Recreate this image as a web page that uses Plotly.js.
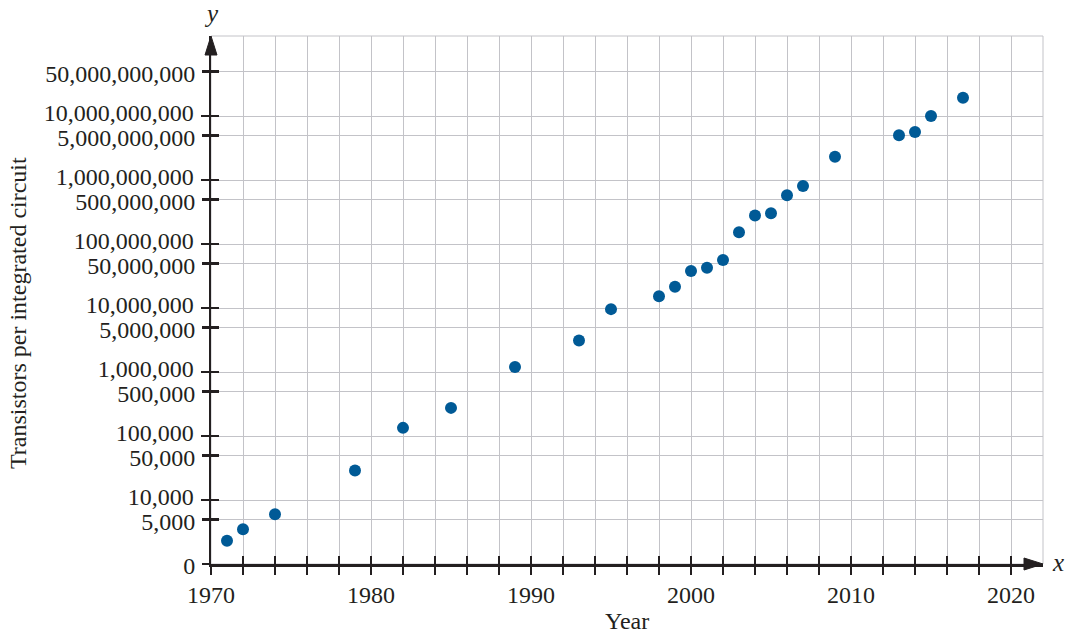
<!DOCTYPE html>
<html>
<head>
<meta charset="utf-8">
<script src="https://cdn.plot.ly/plotly-3.0.1.min.js"></script>
<style>html,body{margin:0;padding:0;background:#fff;}#chart{width:1068px;height:635px;}</style>
</head>
<body>
<div id="chart"></div>
<script>
// Data
const years = [1971, 1972, 1974, 1979, 1982, 1985, 1989, 1993, 1995, 1998, 1999, 2000, 2001, 2002, 2003, 2004, 2005, 2006, 2007, 2009, 2013, 2014, 2015, 2017];
const transistors = [2300, 3500, 6000, 29000, 134000, 275000, 1200000, 3100000, 9600000, 15200000, 21500000, 37800000, 42600000, 56200000, 152000000, 279000000, 302000000, 579000000, 805000000, 2310000000, 4990000000, 5620000000, 10000000000, 19300000000];

// y ticks: powers of ten, and the "5 x" values (plus the 0 at the origin)
const yDecadeVals = [10000, 100000, 1000000, 10000000, 100000000, 1000000000, 10000000000];
const yDecadeText = ['10,000', '100,000', '1,000,000', '10,000,000', '100,000,000', '1,000,000,000', '10,000,000,000'];
const yFiveVals = [1000, 5000, 50000, 500000, 5000000, 50000000, 500000000, 5000000000, 50000000000];
const yFiveText = ['0', '5,000', '50,000', '500,000', '5,000,000', '50,000,000', '500,000,000', '5,000,000,000', '50,000,000,000'];
const yAllVals = yFiveVals.concat(yDecadeVals);

const xTickVals = [1970, 1972, 1974, 1976, 1978, 1980, 1982, 1984, 1986, 1988, 1990, 1992, 1994, 1996, 1998, 2000, 2002, 2004, 2006, 2008, 2010, 2012, 2014, 2016, 2018, 2020];
const xTickText = ['1970', '', '', '', '', '1980', '', '', '', '', '1990', '', '', '', '', '2000', '', '', '', '', '2010', '', '', '', '', '2020'];

const xTitle = 'Year';
const yTitle = 'Transistors per integrated circuit';

const ink = '#231f20';
const grid = '#c3c3c8';
const dot = '#005a96';
const font = 'Liberation Serif, Times New Roman, serif';

const xRange = [1970, 2022];
const yRange = [3, 11.25];

const plotW = 1068 - 211 - 25;
const plotH = 635 - 36 - 71;

const traces = [
  {
    type: 'scatter', mode: 'markers', x: years, y: transistors,
    marker: {color: dot, size: 12, line: {width: 0}},
    hoverinfo: 'x+y', showlegend: false
  },
  { type: 'scatter', mode: 'markers', x: [], y: [], xaxis: 'x2', yaxis: 'y2', showlegend: false, hoverinfo: 'skip' },
  { type: 'scatter', mode: 'markers', x: [], y: [], xaxis: 'x', yaxis: 'y3', showlegend: false, hoverinfo: 'skip' }
];

const tickFont = {family: font, size: 24, color: ink};

const layout = {
  width: 1068, height: 635,
  margin: {l: 211, r: 25, t: 36, b: 71},
  paper_bgcolor: '#ffffff', plot_bgcolor: '#ffffff',
  showlegend: false,
  font: {family: font, color: ink, size: 22},
  xaxis: {
    range: xRange, tickmode: 'array', tickvals: xTickVals, ticktext: xTickText,
    showgrid: true, gridcolor: grid, gridwidth: 1,
    showline: true, linecolor: ink, linewidth: 2.5,
    ticks: 'outside', ticklen: 8, tickwidth: 2.5, tickcolor: ink,
    tickfont: tickFont,
    zeroline: false, fixedrange: true
  },
  yaxis: {
    type: 'log', range: yRange, tickmode: 'array', tickvals: yDecadeVals, ticktext: yDecadeText,
    showgrid: true, gridcolor: grid, gridwidth: 1,
    showline: true, linecolor: ink, linewidth: 2.5,
    ticks: 'outside', ticklen: 8, tickwidth: 2.5, tickcolor: ink,
    tickfont: tickFont, ticklabelshift: -3, ticklabelstandoff: 2,
    zeroline: false, fixedrange: true
  },
  yaxis2: {
    overlaying: 'y', anchor: 'x', side: 'left', type: 'log', range: yRange,
    tickmode: 'array', tickvals: yFiveVals, ticktext: yFiveText,
    showgrid: true, gridcolor: grid, gridwidth: 1,
    showline: false, zeroline: false,
    ticks: 'outside', ticklen: 8, tickwidth: 2.5, tickcolor: ink,
    tickfont: tickFont, ticklabelshift: 2, ticklabelstandoff: 2, fixedrange: true
  },
  xaxis2: {
    overlaying: 'x', anchor: 'y', side: 'bottom', range: xRange,
    tickmode: 'array', tickvals: xTickVals, showticklabels: false,
    showgrid: false, showline: false, zeroline: false,
    ticks: 'inside', ticklen: 8, tickwidth: 2.5, tickcolor: ink, fixedrange: true
  },
  yaxis3: {
    overlaying: 'y', anchor: 'x', side: 'left', type: 'log', range: yRange,
    tickmode: 'array', tickvals: yAllVals, showticklabels: false,
    showgrid: false, showline: false, zeroline: false,
    ticks: 'inside', ticklen: 8, tickwidth: 2.5, tickcolor: ink, fixedrange: true
  },
  shapes: [
    {type: 'rect', xref: 'paper', yref: 'paper', x0: 0, x1: 1, y0: 0, y1: 1,
     line: {color: grid, width: 1}, layer: 'below'},
    {type: 'path', xref: 'paper', yref: 'paper', layer: 'above',
     path: 'M 0 1 L ' + (-6 / plotW) + ' ' + (1 - 19 / plotH) + ' L ' + (6 / plotW) + ' ' + (1 - 19 / plotH) + ' Z',
     fillcolor: ink, line: {color: ink, width: 1}},
    {type: 'path', xref: 'paper', yref: 'paper', layer: 'above',
     path: 'M 1 0 L ' + (1 - 19 / plotW) + ' ' + (6 / plotH) + ' L ' + (1 - 19 / plotW) + ' ' + (-6 / plotH) + ' Z',
     fillcolor: ink, line: {color: ink, width: 1}}
  ],
  annotations: [
    {text: xTitle, xref: 'paper', yref: 'paper', x: 0.5, y: -71 / plotH,
     xanchor: 'center', yanchor: 'bottom', showarrow: false, borderpad: 0,
     font: {family: font, size: 24, color: ink}},
    {text: yTitle, xref: 'paper', yref: 'paper', x: -193 / plotW, y: (564 - 313) / plotH,
     xanchor: 'center', yanchor: 'middle', textangle: -90, showarrow: false,
     font: {family: font, size: 24, color: ink}},
    {text: '<i>x</i>', xref: 'paper', yref: 'paper', x: (1058 - 211) / plotW, y: (564 - 562) / plotH,
     xanchor: 'center', yanchor: 'middle', showarrow: false,
     font: {family: font, size: 25, color: ink}},
    {text: '<i>y</i>', xref: 'paper', yref: 'paper', x: 0, y: (564 - 14) / plotH,
     xanchor: 'center', yanchor: 'middle', showarrow: false,
     font: {family: font, size: 25, color: ink}}
  ]
};

Plotly.newPlot('chart', traces, layout, {displayModeBar: false, staticPlot: true});
</script>
</body>
</html>
